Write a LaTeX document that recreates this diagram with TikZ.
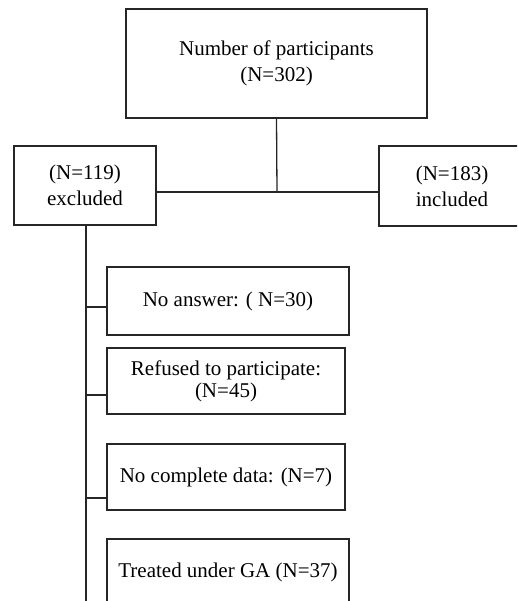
\documentclass[tikz,border=0pt]{standalone}
\usepackage{fontspec}
\setmainfont{Liberation Serif}
\begin{document}
\begin{tikzpicture}[x=1pt,y=1pt,
  box/.style={draw=black!85, line width=1.3pt, rectangle, inner sep=0pt, align=center, font=\fontsize{21}{26}\selectfont},
  tight/.style={font=\fontsize{21}{22}\selectfont},
  conn/.style={draw=black!85, line width=1.3pt}]
\useasboundingbox (0,0) rectangle (517,-601);
\clip (0,0) rectangle (517,-601);
\node[box, minimum width=301pt, minimum height=109pt] (top) at (276.5,-63.5) {Number of participants\\(N=302)};
\node[box, minimum width=142pt, minimum height=79pt] (excl) at (85,-185.5) {(N=119)\\excluded};
\node[box, minimum width=146pt, minimum height=80pt] (incl) at (452,-186) {(N=183)\\included};
\node[box, minimum width=242pt, minimum height=68pt] (na) at (228,-301) {No answer: ( N=30)};
\node[box, tight, minimum width=238pt, minimum height=66pt] (ref) at (226,-381) {Refused to participate:\\(N=45)};
\node[box, minimum width=238pt, minimum height=66pt] (ncd) at (226,-477) {No complete data: (N=7)};
\node[box, minimum width=242pt, minimum height=66pt] (ga) at (228,-572) {Treated under GA (N=37)};
\coordinate (j) at (277,-192);
\coordinate (spineend) at (86,-610);
\coordinate (b1) at (86,-307);
\coordinate (b2) at (86,-395);
\coordinate (b3) at (86,-498);
\draw[conn] (top.south) -- (j);
\draw[conn] (excl.east |- j) -- (incl.west |- j);
\draw[conn] (excl.south -| spineend) -- (spineend);
\draw[conn] (b1) -- (b1 -| na.west);
\draw[conn] (b2) -- (b2 -| ref.west);
\draw[conn] (b3) -- (b3 -| ncd.west);
\end{tikzpicture}
\end{document}
